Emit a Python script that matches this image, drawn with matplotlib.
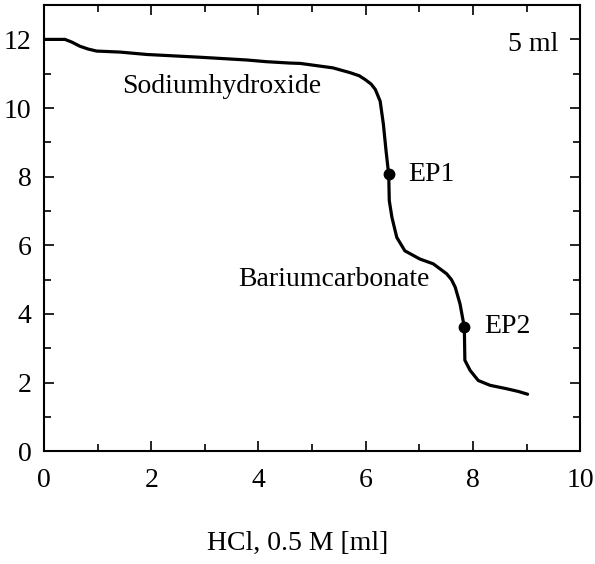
import matplotlib
matplotlib.use("Agg")
import matplotlib.pyplot as plt
from matplotlib.ticker import MultipleLocator

# Titration curve data (HCl volume in ml vs pH)
vol = [0.0, 0.39, 0.52, 0.67, 0.82, 0.98, 1.42, 1.92, 2.91, 3.78, 4.15, 4.59, 4.78, 5.39, 5.71,
       5.88, 5.99, 6.10, 6.18, 6.27, 6.33, 6.38, 6.43, 6.44, 6.49, 6.58, 6.73, 7.01, 7.26, 7.51,
       7.60, 7.67, 7.76, 7.84, 7.85, 7.95, 8.10, 8.32, 8.63, 8.85, 9.02]
ph = [12.0, 12.0, 11.92, 11.8, 11.72, 11.66, 11.63, 11.56, 11.48, 11.40, 11.35, 11.31, 11.30, 11.17, 11.03,
      10.94, 10.83, 10.70, 10.54, 10.20, 9.53, 8.75, 8.05, 7.30, 6.81, 6.23, 5.84, 5.60, 5.46, 5.17,
      5.00, 4.78, 4.29, 3.61, 2.65, 2.35, 2.06, 1.92, 1.82, 1.74, 1.66]

ep_x = [6.43, 7.84]
ep_y = [8.07, 3.62]
ep_labels = ["EP1", "EP2"]

xlabel = "HCl, 0.5 M [ml]"

plt.rcParams['font.family'] = ['Liberation Serif', 'DejaVu Serif']
FS = 20

fig = plt.figure(figsize=(5.95, 5.64), dpi=100)
ax = fig.add_axes([0.074, 0.2, 0.901, 0.791])

ax.plot(vol, ph, color='black', lw=2.3, solid_joinstyle='round', solid_capstyle='round')
ax.plot(ep_x, ep_y, 'o', color='black', ms=7.5)
for x, y, lab in zip(ep_x, ep_y, ep_labels):
    ax.text(x + 0.37, y, lab, fontsize=FS, va='center', ha='left')

ax.text(1.46, 10.64, "Sodiumhydroxide", fontsize=FS, va='center', ha='left')
ax.text(3.62, 5.0, "Bariumcarbonate", fontsize=FS, va='center', ha='left')
ax.text(9.6, 11.86, "5 ml", fontsize=FS, va='center', ha='right')

ax.set_xlim(0, 10)
ax.set_ylim(0, 13)
ax.xaxis.set_major_locator(MultipleLocator(2))
ax.xaxis.set_minor_locator(MultipleLocator(1))
ax.yaxis.set_major_locator(MultipleLocator(2))
ax.yaxis.set_minor_locator(MultipleLocator(1))
ax.tick_params(which='both', direction='in', top=True, right=True, labelsize=FS, width=1.2)
ax.tick_params(which='major', length=7)
ax.tick_params(which='minor', length=5)
ax.tick_params(axis='x', which='major', pad=12)
ax.tick_params(axis='y', which='major', pad=9)
for s in ax.spines.values():
    s.set_linewidth(1.5)

fig.text(0.5, 0.037, xlabel, fontsize=FS, ha='center', va='center')

fig.savefig("out.png", dpi=100)
